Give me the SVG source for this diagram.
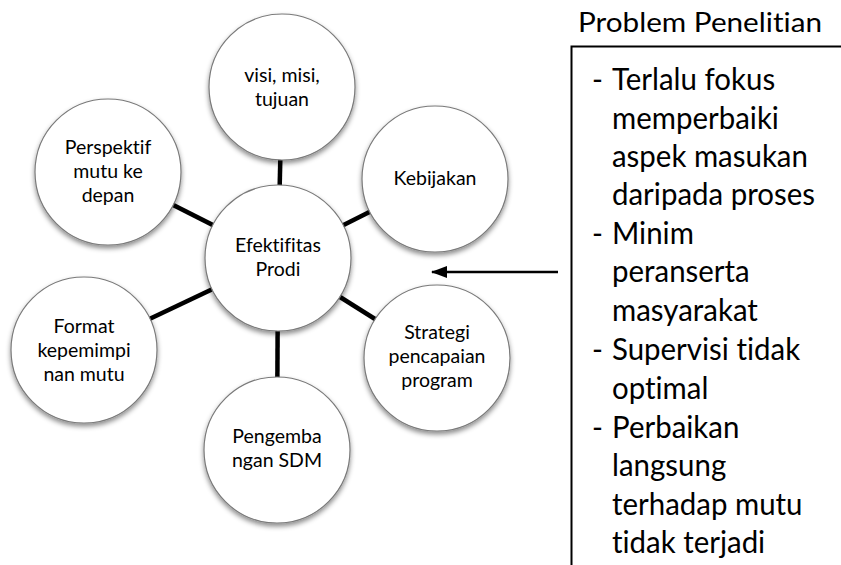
<svg xmlns="http://www.w3.org/2000/svg" width="841" height="565" viewBox="0 0 841 565">
  <defs>
    <filter id="soft-shadow" x="-20%" y="-20%" width="140%" height="150%">
      <feDropShadow dx="0" dy="3" stdDeviation="2.5" flood-color="#000" flood-opacity="0.45"/>
    </filter>
    <marker id="arrowhead" viewBox="0 0 16 12" refX="15" refY="6" markerWidth="16" markerHeight="12" markerUnits="userSpaceOnUse" orient="auto">
      <path d="M0,0 L16,6 L0,12 Z" fill="#000"/>
    </marker>
  </defs>
  <style>
    text { font-variant-ligatures: none; font-feature-settings: "liga" 0, "dlig" 0; }
    .bubble { fill: #fff; stroke: #7a7a7a; stroke-width: 1.2; filter: url(#soft-shadow); }
    .spoke { stroke: #000; stroke-width: 4.5; }
    .label { font-family: Lato, "Open Sans", sans-serif; font-size: 19.5px; fill: #000; text-anchor: middle; }
    .title { font-family: Lato, "Open Sans", sans-serif; font-size: 26px; fill: #000; }
    .item { font-family: Lato, "Open Sans", sans-serif; font-size: 31px; fill: #000; }
    .frame { stroke: #000; stroke-width: 2; fill: none; }
  </style>
  <rect width="841" height="565" fill="#fff"/>

  <!-- spokes from the hub to every surrounding bubble -->
  <g id="connectors">
    <line class="spoke" x1="278" y1="258" x2="282" y2="87"/>
    <line class="spoke" x1="278" y1="258" x2="435" y2="179"/>
    <line class="spoke" x1="278" y1="258" x2="437" y2="358"/>
    <line class="spoke" x1="278" y1="258" x2="277" y2="450"/>
    <line class="spoke" x1="278" y1="258" x2="84" y2="350"/>
    <line class="spoke" x1="278" y1="258" x2="108" y2="172"/>
    <line x1="558" y1="272" x2="432" y2="272" stroke="#000" stroke-width="2.5" marker-end="url(#arrowhead)"/>
  </g>

  <g id="visi">
    <circle class="bubble" cx="282" cy="87" r="73"/>
    <text class="label" x="282" y="82">visi, misi,</text>
    <text class="label" x="282" y="106">tujuan</text>
  </g>
  <g id="kebijakan">
    <circle class="bubble" cx="435" cy="179" r="73"/>
    <text class="label" x="435" y="185">Kebijakan</text>
  </g>
  <g id="strategi">
    <circle class="bubble" cx="437" cy="358" r="73"/>
    <text class="label" x="437" y="339">Strategi</text>
    <text class="label" x="437" y="363">pencapaian</text>
    <text class="label" x="437" y="387">program</text>
  </g>
  <g id="pengembangan">
    <circle class="bubble" cx="277" cy="450" r="73"/>
    <text class="label" x="277" y="443">Pengemba</text>
    <text class="label" x="277" y="467">ngan SDM</text>
  </g>
  <g id="format">
    <circle class="bubble" cx="84" cy="350" r="73"/>
    <text class="label" x="84" y="333">Format</text>
    <text class="label" x="84" y="357">kepemimpi</text>
    <text class="label" x="84" y="381">nan mutu</text>
  </g>
  <g id="perspektif">
    <circle class="bubble" cx="108" cy="172" r="73"/>
    <text class="label" x="108" y="154">Perspektif</text>
    <text class="label" x="108" y="178">mutu ke</text>
    <text class="label" x="108" y="202">depan</text>
  </g>
  <g id="hub">
    <circle class="bubble" cx="278" cy="258" r="73"/>
    <text class="label" x="278" y="252">Efektifitas</text>
    <text class="label" x="278" y="276">Prodi</text>
  </g>

  <!-- research problem panel -->
  <g id="problem">
    <text class="title" x="578" y="32" textLength="244" lengthAdjust="spacingAndGlyphs">Problem Penelitian</text>
    <path class="frame" d="M841,46.5 H571.5 V565"/>
    <!-- list text is slightly condensed horizontally around its left margin -->
    <g transform="translate(612,0) scale(0.95,1) translate(-612,0)">
      <text class="item" x="591" y="90">-</text>
      <text class="item" x="612" y="90">Terlalu fokus</text>
      <text class="item" x="612" y="129">memperbaiki</text>
      <text class="item" x="612" y="167">aspek masukan</text>
      <text class="item" x="612" y="205">daripada proses</text>
      <text class="item" x="591" y="244">-</text>
      <text class="item" x="612" y="244">Minim</text>
      <text class="item" x="612" y="282">peranserta</text>
      <text class="item" x="612" y="321">masyarakat</text>
      <text class="item" x="591" y="360">-</text>
      <text class="item" x="612" y="360">Supervisi tidak</text>
      <text class="item" x="612" y="399">optimal</text>
      <text class="item" x="591" y="438">-</text>
      <text class="item" x="612" y="438">Perbaikan</text>
      <text class="item" x="612" y="476">langsung</text>
      <text class="item" x="612" y="515">terhadap mutu</text>
      <text class="item" x="612" y="553">tidak terjadi</text>
    </g>
  </g>
</svg>
